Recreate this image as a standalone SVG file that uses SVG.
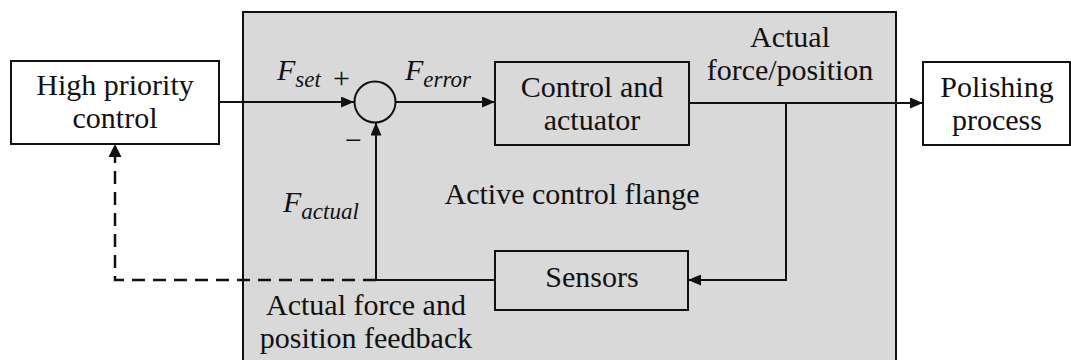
<svg xmlns="http://www.w3.org/2000/svg" width="1071" height="360" viewBox="0 0 1071 360">
<defs>
<style>
.box{fill:#fff;stroke:#111;stroke-width:2}
.inner{fill:none;stroke:#111;stroke-width:2}
.t{font-family:"Liberation Serif","DejaVu Serif",serif;font-size:30px;fill:#111}
.m{font-family:"Liberation Serif","DejaVu Serif",serif;font-style:italic;font-size:30px;fill:#111}
.sub{font-size:23px}
.ln{fill:none;stroke:#111;stroke-width:2}
.dash{fill:none;stroke:#111;stroke-width:2.5;stroke-dasharray:13 8}
</style>
<marker id="arr" viewBox="0 0 13 11" refX="13" refY="5.5" markerWidth="13" markerHeight="11" markerUnits="userSpaceOnUse" orient="auto">
<path d="M0,0 L13,5.5 L0,11 Z" fill="#111"/>
</marker>
</defs>
<rect width="1071" height="360" fill="#fff"/>
<g id="flange">
<rect x="243" y="12" width="653" height="360" fill="#d9d9d9" stroke="#111" stroke-width="2"/>
<text class="t" x="572" y="204" text-anchor="middle">Active control flange</text>
</g>
<g id="hpc">
<rect class="box" x="11" y="61" width="208" height="83"/>
<text class="t" x="115" y="95" text-anchor="middle">High priority</text>
<text class="t" x="115" y="128" text-anchor="middle">control</text>
</g>
<g id="sum">
<circle cx="375" cy="102" r="20.5" fill="none" stroke="#111" stroke-width="2"/>
</g>
<g id="control">
<rect class="inner" x="495" y="62" width="194" height="83"/>
<text class="t" x="592" y="97" text-anchor="middle">Control and</text>
<text class="t" x="592" y="130" text-anchor="middle">actuator</text>
</g>
<g id="polishing">
<rect class="box" x="923" y="62" width="147" height="83"/>
<text class="t" x="997" y="97" text-anchor="middle">Polishing</text>
<text class="t" x="997" y="130" text-anchor="middle">process</text>
</g>
<g id="sensors">
<rect class="inner" x="495" y="251" width="193" height="59"/>
<text class="t" x="592" y="287" text-anchor="middle">Sensors</text>
</g>
<g id="connectors">
<line class="ln" x1="219" y1="102" x2="354" y2="102" marker-end="url(#arr)"/>
<line class="ln" x1="396" y1="102" x2="495" y2="102" marker-end="url(#arr)"/>
<line class="ln" x1="689" y1="103" x2="923" y2="103" marker-end="url(#arr)"/>
<polyline class="ln" points="786,103 786,280 688,280" marker-end="url(#arr)"/>
<polyline class="ln" points="495,280 376,280 376,122.5" marker-end="url(#arr)"/>
<polyline class="dash" points="376,280 115,280 115,157"/>
<path d="M108.5,157 L115,144 L121.5,157 Z" fill="#111"/>
</g>
<g id="labels">
<text class="m" x="277" y="80">F<tspan class="sub" dy="7">set</tspan></text>
<text class="t" x="333" y="88" font-size="24">+</text>
<text class="t" x="345" y="150" font-size="24">−</text>
<text class="m" x="405" y="80">F<tspan class="sub" dy="7">error</tspan></text>
<text class="m" x="283" y="212">F<tspan class="sub" dy="7">actual</tspan></text>
<text class="t" x="790" y="47" text-anchor="middle">Actual</text>
<text class="t" x="790" y="80" text-anchor="middle">force/position</text>
<text class="t" x="366" y="315" text-anchor="middle">Actual force and</text>
<text class="t" x="366" y="348" text-anchor="middle">position feedback</text>
</g>
</svg>
